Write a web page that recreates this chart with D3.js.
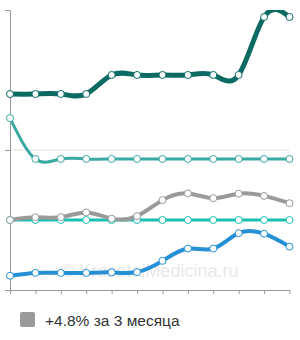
<!DOCTYPE html>
<html>
<head>
<meta charset="utf-8">
<script src="https://cdn.jsdelivr.net/npm/d3@7"></script>
<style>
  html, body { margin: 0; padding: 0; background: #fff; }
  svg { display: block; }
</style>
</head>
<body>
<div id="chart"></div>
<script>
// months (12 points on the x axis, no labels shown)
const months = ['1', '2', '3', '4', '5', '6', '7', '8', '9', '10', '11', '12'];
// y ticks (no labels shown)
const yTicks = [0, 50, 100];

const darkTeal = [70.0, 70.0, 70.0, 70.0, 76.8, 76.8, 76.8, 76.8, 76.8, 76.8, 97.5, 97.5];
const midTeal = [61.4, 46.8, 46.8, 46.8, 46.8, 46.8, 46.8, 46.8, 46.8, 46.8, 46.8, 46.8];
const cyan = [25.0, 25.0, 25.0, 25.0, 25.0, 25.0, 25.0, 25.0, 25.0, 25.0, 25.0, 25.0];
const gray = [25.0, 26.0, 26.0, 27.7, 25.5, 26.4, 32.1, 34.5, 32.8, 34.4, 33.6, 31.0];
const blue = [5.1, 6.1, 6.1, 6.1, 6.3, 6.4, 10.4, 14.8, 14.8, 20.3, 20.1, 15.5];

const legendText = '+4.8% за 3 месяца';
const watermark = '\u00A9 KrasotaiMedicina.ru';

const series = [
  { values: darkTeal, color: '#0b6b63', width: 5 },
  { values: midTeal, color: '#3aa9a2', width: 3 },
  { values: cyan, color: '#19bfb3', width: 3 },
  { values: gray, color: '#9a9a9a', width: 4 },
  { values: blue, color: '#2590d6', width: 4 }
];

const width = 300, height = 340;
const margin = { top: 10, right: 10.5, bottom: 50, left: 10 };
const plotW = width - margin.left - margin.right;
const plotH = height - margin.top - margin.bottom;

const svg = d3.select('#chart').append('svg')
  .attr('width', width)
  .attr('height', height);

const x = d3.scalePoint().domain(months).range([0, plotW]);
const y = d3.scaleLinear().domain([0, 100]).range([plotH, 0]);

svg.append('defs').append('clipPath').attr('id', 'plot-clip')
  .append('rect')
  .attr('x', -2).attr('y', 0)
  .attr('width', plotW + 6).attr('height', plotH);

const g = svg.append('g')
  .attr('transform', `translate(${margin.left}, ${margin.top})`);

// watermark
g.append('text')
  .attr('x', plotW / 2)
  .attr('y', 267)
  .attr('text-anchor', 'middle')
  .attr('font-family', 'Liberation Sans, Arial, sans-serif')
  .attr('font-size', '18px')
  .attr('fill', '#e9e9e9')
  .text(watermark);

// grid line in the middle
g.append('line')
  .attr('x1', 0).attr('x2', plotW)
  .attr('y1', y(50)).attr('y2', y(50))
  .attr('stroke', '#e2e2e2')
  .attr('stroke-width', 1);

// axes
const yAxis = g.append('g')
  .call(d3.axisLeft(y).tickValues(yTicks).tickSize(5).tickSizeOuter(0).tickFormat(''));
const xAxis = g.append('g')
  .attr('transform', `translate(0, ${plotH})`)
  .call(d3.axisBottom(x).tickSize(4).tickSizeOuter(0).tickFormat(''));
[yAxis, xAxis].forEach(a => {
  a.selectAll('path, line').attr('stroke', '#999');
});

const line = d3.line()
  .x((d, i) => x(months[i]))
  .y(d => y(d))
  .curve(d3.curveNatural);

const lines = g.append('g').attr('clip-path', 'url(#plot-clip)');
series.forEach(s => {
  lines.append('path')
    .datum(s.values)
    .attr('d', line)
    .attr('fill', 'none')
    .attr('stroke', s.color)
    .attr('stroke-width', s.width)
    .attr('stroke-linejoin', 'round');
});

series.forEach(s => {
  g.append('g').selectAll('circle')
    .data(s.values)
    .enter().append('circle')
    .attr('cx', (d, i) => x(months[i]))
    .attr('cy', d => y(d))
    .attr('r', 3.5)
    .attr('fill', '#fff')
    .attr('stroke', s.color)
    .attr('stroke-width', 1);
});

// legend
svg.append('rect')
  .attr('x', 20).attr('y', 312)
  .attr('width', 15).attr('height', 15)
  .attr('rx', 2)
  .attr('fill', '#9a9a9a');
svg.append('text')
  .attr('x', 45).attr('y', 326)
  .attr('font-family', 'Liberation Sans, Arial, sans-serif')
  .attr('font-size', '15.5px')
  .attr('fill', '#333')
  .text(legendText);
</script>
</body>
</html>
